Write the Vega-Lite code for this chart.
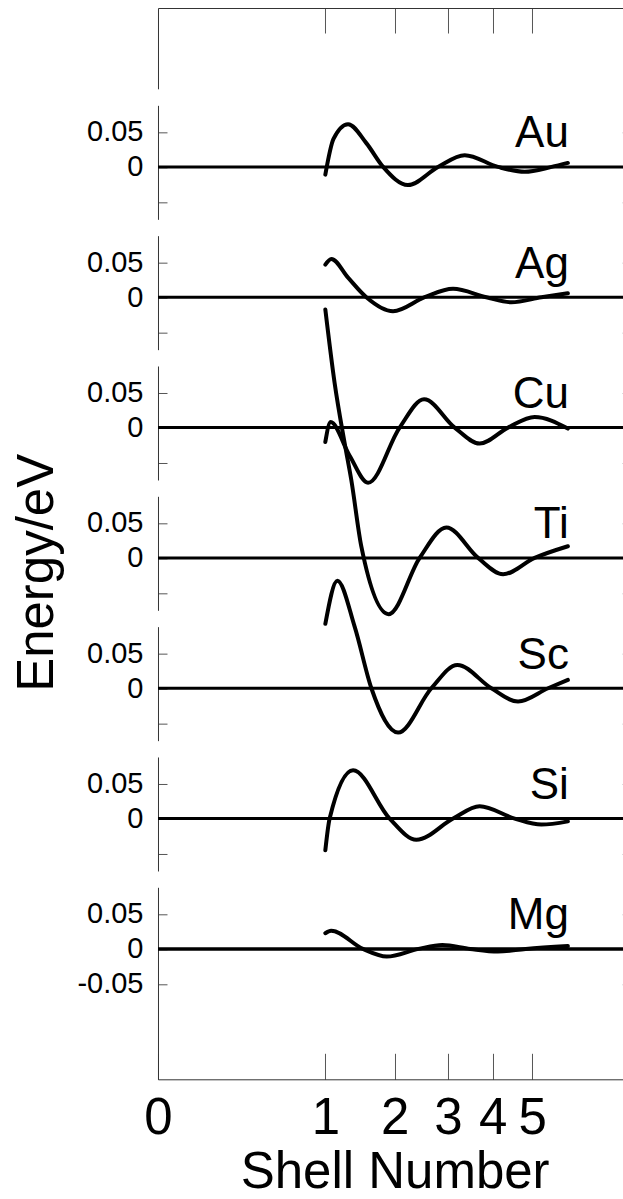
{
  "$schema": "https://vega.github.io/schema/vega-lite/v6.json",
  "padding": {"left": 12, "top": 7, "right": 0, "bottom": 0},
  "background": "white",
  "spacing": 16.33,
  "bounds": "flush",
  "config": {
    "view": {"stroke": null},
    "axis": {"grid": false, "domainColor": "#333", "domainWidth": 1, "tickColor": "#555", "tickWidth": 1, "labelFont": "Liberation Sans", "titleFont": "Liberation Sans", "labelColor": "black", "titleColor": "black", "titleFontWeight": "normal", "labelOverlap": false, "labelFlush": false, "labelBound": false},
    "text": {"font": "Liberation Sans", "color": "black"},
    "line": {"color": "black", "strokeWidth": 4, "strokeCap": "round", "interpolate": "monotone"}
  },
  "data": {"values": [
    {"el": "Au", "shell": 1.0, "E": -0.011}, {"el": "Au", "shell": 1.1, "E": 0.04}, {"el": "Au", "shell": 1.29, "E": 0.061}, {"el": "Au", "shell": 1.55, "E": 0.034}, {"el": "Au", "shell": 1.81, "E": 0}, {"el": "Au", "shell": 2.23, "E": -0.026}, {"el": "Au", "shell": 2.8, "E": 0}, {"el": "Au", "shell": 3.36, "E": 0.0167}, {"el": "Au", "shell": 4.13, "E": 0}, {"el": "Au", "shell": 4.8, "E": -0.007}, {"el": "Au", "shell": 5.53, "E": 0}, {"el": "Au", "shell": 6.0, "E": 0.0057},
    {"el": "Ag", "shell": 1.0, "E": 0.0467}, {"el": "Ag", "shell": 1.073, "E": 0.0548}, {"el": "Ag", "shell": 1.29, "E": 0.028}, {"el": "Ag", "shell": 1.55, "E": 0}, {"el": "Ag", "shell": 1.973, "E": -0.02}, {"el": "Ag", "shell": 2.54, "E": 0}, {"el": "Ag", "shell": 3.109, "E": 0.012}, {"el": "Ag", "shell": 3.851, "E": 0}, {"el": "Ag", "shell": 4.46, "E": -0.0071}, {"el": "Ag", "shell": 5.25, "E": 0}, {"el": "Ag", "shell": 6.0, "E": 0.0057},
    {"el": "Cu", "shell": 1.0, "E": -0.0205}, {"el": "Cu", "shell": 1.064, "E": 0.008}, {"el": "Cu", "shell": 1.31, "E": -0.04}, {"el": "Cu", "shell": 1.576, "E": -0.079}, {"el": "Cu", "shell": 2.085, "E": 0}, {"el": "Cu", "shell": 2.528, "E": 0.0404}, {"el": "Cu", "shell": 3.143, "E": 0}, {"el": "Cu", "shell": 3.695, "E": -0.0229}, {"el": "Cu", "shell": 4.377, "E": 0}, {"el": "Cu", "shell": 5.067, "E": 0.0152}, {"el": "Cu", "shell": 6.0, "E": -0.0014},
    {"el": "Ti", "shell": 1.0, "E": 0.355}, {"el": "Ti", "shell": 1.114, "E": 0.25}, {"el": "Ti", "shell": 1.244, "E": 0.164}, {"el": "Ti", "shell": 1.335, "E": 0.111}, {"el": "Ti", "shell": 1.477, "E": 0.016}, {"el": "Ti", "shell": 1.9, "E": -0.0804}, {"el": "Ti", "shell": 2.445, "E": 0}, {"el": "Ti", "shell": 2.97, "E": 0.0434}, {"el": "Ti", "shell": 3.659, "E": 0}, {"el": "Ti", "shell": 4.253, "E": -0.0233}, {"el": "Ti", "shell": 5.067, "E": 0}, {"el": "Ti", "shell": 6.0, "E": 0.0167},
    {"el": "Sc", "shell": 1.0, "E": 0.092}, {"el": "Sc", "shell": 1.149, "E": 0.1537}, {"el": "Sc", "shell": 1.381, "E": 0.088}, {"el": "Sc", "shell": 1.626, "E": 0}, {"el": "Sc", "shell": 2.058, "E": -0.0634}, {"el": "Sc", "shell": 2.669, "E": 0}, {"el": "Sc", "shell": 3.2, "E": 0.0333}, {"el": "Sc", "shell": 3.969, "E": 0}, {"el": "Sc", "shell": 4.63, "E": -0.019}, {"el": "Sc", "shell": 5.434, "E": 0}, {"el": "Sc", "shell": 6.0, "E": 0.0119},
    {"el": "Si", "shell": 1.0, "E": -0.0453}, {"el": "Si", "shell": 1.052, "E": 0}, {"el": "Si", "shell": 1.359, "E": 0.069}, {"el": "Si", "shell": 1.916, "E": 0}, {"el": "Si", "shell": 2.384, "E": -0.0304}, {"el": "Si", "shell": 3.109, "E": 0}, {"el": "Si", "shell": 3.695, "E": 0.0176}, {"el": "Si", "shell": 4.543, "E": 0}, {"el": "Si", "shell": 5.249, "E": -0.0086}, {"el": "Si", "shell": 6.0, "E": -0.004},
    {"el": "Mg", "shell": 1.0, "E": 0.0224}, {"el": "Mg", "shell": 1.07, "E": 0.026}, {"el": "Mg", "shell": 1.499, "E": 0}, {"el": "Mg", "shell": 1.869, "E": -0.011}, {"el": "Mg", "shell": 2.424, "E": 0}, {"el": "Mg", "shell": 2.888, "E": 0.0057}, {"el": "Mg", "shell": 3.48, "E": 0}, {"el": "Mg", "shell": 4.128, "E": -0.0038}, {"el": "Mg", "shell": 4.83, "E": 0}, {"el": "Mg", "shell": 6.0, "E": 0.004}
  ]},
  "vconcat": [
    {
      "width": 473.3, "height": 80.8,
      "data": {"values": [{}]},
      "mark": {"type": "point", "opacity": 0},
      "encoding": {
        "x": {"datum": 1, "type": "quantitative", "scale": {"type": "sqrt", "domain": [0, 8], "nice": false}, "axis": {"orient": "top", "values": [1, 2, 3, 4, 5], "tickSize": -25, "labels": false, "title": null}},
        "y": {"datum": 0.5, "type": "quantitative", "scale": {"domain": [0, 1]}, "axis": {"ticks": false, "labels": false, "title": null}}
      }
    },
    {
      "width": 473.3, "height": 114,
      "layer": [
        {"transform": [{"filter": "datum.el == 'Au'"}], "mark": {"type": "line"},
         "encoding": {"x": {"field": "shell", "type": "quantitative", "scale": {"type": "sqrt", "domain": [0, 8], "nice": false}, "axis": null},
                      "y": {"field": "E", "type": "quantitative", "scale": {"domain": [-0.0749, 0.088], "nice": false, "zero": false}, "axis": {"orient": "left", "values": [-0.05, 0, 0.05], "tickSize": -9, "labelPadding": 24, "labelFontSize": 29, "labelExpr": "datum.value < -0.01 ? '' : (datum.value > 0.01 ? '0.05' : '0')", "title": null}}}},
        {"data": {"values": [{}]}, "mark": {"type": "rule", "color": "black", "strokeWidth": 3},
         "encoding": {"y": {"datum": 0, "type": "quantitative", "axis": {"orient": "right", "values": [-0.05, 0, 0.05], "tickSize": -9, "labels": false, "title": null}}}},
        {"data": {"values": [{}]}, "mark": {"type": "text", "align": "right", "baseline": "alphabetic", "fontSize": 44, "dx": 1},
         "encoding": {"x": {"datum": 6, "type": "quantitative", "axis": null}, "y": {"datum": 0.028, "type": "quantitative", "axis": null}, "text": {"value": "Au"}}}
      ],
      "resolve": {"axis": {"x": "independent", "y": "independent"}}
    },
    {
      "width": 473.3, "height": 114,
      "layer": [
        {"transform": [{"filter": "datum.el == 'Ag'"}], "mark": {"type": "line"},
         "encoding": {"x": {"field": "shell", "type": "quantitative", "scale": {"type": "sqrt", "domain": [0, 8], "nice": false}, "axis": null},
                      "y": {"field": "E", "type": "quantitative", "scale": {"domain": [-0.0749, 0.088], "nice": false, "zero": false}, "axis": {"orient": "left", "values": [-0.05, 0, 0.05], "tickSize": -9, "labelPadding": 24, "labelFontSize": 29, "labelExpr": "datum.value < -0.01 ? '' : (datum.value > 0.01 ? '0.05' : '0')", "title": null}}}},
        {"data": {"values": [{}]}, "mark": {"type": "rule", "color": "black", "strokeWidth": 3},
         "encoding": {"y": {"datum": 0, "type": "quantitative", "axis": {"orient": "right", "values": [-0.05, 0, 0.05], "tickSize": -9, "labels": false, "title": null}}}},
        {"data": {"values": [{}]}, "mark": {"type": "text", "align": "right", "baseline": "alphabetic", "fontSize": 44, "dx": 1},
         "encoding": {"x": {"datum": 6, "type": "quantitative", "axis": null}, "y": {"datum": 0.028, "type": "quantitative", "axis": null}, "text": {"value": "Ag"}}}
      ],
      "resolve": {"axis": {"x": "independent", "y": "independent"}}
    },
    {
      "width": 473.3, "height": 114,
      "layer": [
        {"transform": [{"filter": "datum.el == 'Cu'"}], "mark": {"type": "line"},
         "encoding": {"x": {"field": "shell", "type": "quantitative", "scale": {"type": "sqrt", "domain": [0, 8], "nice": false}, "axis": null},
                      "y": {"field": "E", "type": "quantitative", "scale": {"domain": [-0.0749, 0.088], "nice": false, "zero": false}, "axis": {"orient": "left", "values": [-0.05, 0, 0.05], "tickSize": -9, "labelPadding": 24, "labelFontSize": 29, "labelExpr": "datum.value < -0.01 ? '' : (datum.value > 0.01 ? '0.05' : '0')", "title": null}}}},
        {"data": {"values": [{}]}, "mark": {"type": "rule", "color": "black", "strokeWidth": 3},
         "encoding": {"y": {"datum": 0, "type": "quantitative", "axis": {"orient": "right", "values": [-0.05, 0, 0.05], "tickSize": -9, "labels": false, "title": null}}}},
        {"data": {"values": [{}]}, "mark": {"type": "text", "align": "right", "baseline": "alphabetic", "fontSize": 44, "dx": 1},
         "encoding": {"x": {"datum": 6, "type": "quantitative", "axis": null}, "y": {"datum": 0.028, "type": "quantitative", "axis": null}, "text": {"value": "Cu"}}}
      ],
      "resolve": {"axis": {"x": "independent", "y": "independent"}}
    },
    {
      "width": 473.3, "height": 114,
      "layer": [
        {"transform": [{"filter": "datum.el == 'Ti'"}], "mark": {"type": "line"},
         "encoding": {"x": {"field": "shell", "type": "quantitative", "scale": {"type": "sqrt", "domain": [0, 8], "nice": false}, "axis": null},
                      "y": {"field": "E", "type": "quantitative", "scale": {"domain": [-0.0749, 0.088], "nice": false, "zero": false}, "axis": {"orient": "left", "values": [-0.05, 0, 0.05], "tickSize": -9, "labelPadding": 24, "labelFontSize": 29, "labelExpr": "datum.value < -0.01 ? '' : (datum.value > 0.01 ? '0.05' : '0')", "title": "Energy/eV", "titleFontSize": 51, "titleX": -94, "titleY": 76}}}},
        {"data": {"values": [{}]}, "mark": {"type": "rule", "color": "black", "strokeWidth": 3},
         "encoding": {"y": {"datum": 0, "type": "quantitative", "axis": {"orient": "right", "values": [-0.05, 0, 0.05], "tickSize": -9, "labels": false, "title": null}}}},
        {"data": {"values": [{}]}, "mark": {"type": "text", "align": "right", "baseline": "alphabetic", "fontSize": 44, "dx": 1},
         "encoding": {"x": {"datum": 6, "type": "quantitative", "axis": null}, "y": {"datum": 0.028, "type": "quantitative", "axis": null}, "text": {"value": "Ti"}}}
      ],
      "resolve": {"axis": {"x": "independent", "y": "independent"}}
    },
    {
      "width": 473.3, "height": 114,
      "layer": [
        {"transform": [{"filter": "datum.el == 'Sc'"}], "mark": {"type": "line"},
         "encoding": {"x": {"field": "shell", "type": "quantitative", "scale": {"type": "sqrt", "domain": [0, 8], "nice": false}, "axis": null},
                      "y": {"field": "E", "type": "quantitative", "scale": {"domain": [-0.0749, 0.088], "nice": false, "zero": false}, "axis": {"orient": "left", "values": [-0.05, 0, 0.05], "tickSize": -9, "labelPadding": 24, "labelFontSize": 29, "labelExpr": "datum.value < -0.01 ? '' : (datum.value > 0.01 ? '0.05' : '0')", "title": null}}}},
        {"data": {"values": [{}]}, "mark": {"type": "rule", "color": "black", "strokeWidth": 3},
         "encoding": {"y": {"datum": 0, "type": "quantitative", "axis": {"orient": "right", "values": [-0.05, 0, 0.05], "tickSize": -9, "labels": false, "title": null}}}},
        {"data": {"values": [{}]}, "mark": {"type": "text", "align": "right", "baseline": "alphabetic", "fontSize": 44, "dx": 1},
         "encoding": {"x": {"datum": 6, "type": "quantitative", "axis": null}, "y": {"datum": 0.028, "type": "quantitative", "axis": null}, "text": {"value": "Sc"}}}
      ],
      "resolve": {"axis": {"x": "independent", "y": "independent"}}
    },
    {
      "width": 473.3, "height": 114,
      "layer": [
        {"transform": [{"filter": "datum.el == 'Si'"}], "mark": {"type": "line"},
         "encoding": {"x": {"field": "shell", "type": "quantitative", "scale": {"type": "sqrt", "domain": [0, 8], "nice": false}, "axis": null},
                      "y": {"field": "E", "type": "quantitative", "scale": {"domain": [-0.0749, 0.088], "nice": false, "zero": false}, "axis": {"orient": "left", "values": [-0.05, 0, 0.05], "tickSize": -9, "labelPadding": 24, "labelFontSize": 29, "labelExpr": "datum.value < -0.01 ? '' : (datum.value > 0.01 ? '0.05' : '0')", "title": null}}}},
        {"data": {"values": [{}]}, "mark": {"type": "rule", "color": "black", "strokeWidth": 3},
         "encoding": {"y": {"datum": 0, "type": "quantitative", "axis": {"orient": "right", "values": [-0.05, 0, 0.05], "tickSize": -9, "labels": false, "title": null}}}},
        {"data": {"values": [{}]}, "mark": {"type": "text", "align": "right", "baseline": "alphabetic", "fontSize": 44, "dx": 1},
         "encoding": {"x": {"datum": 6, "type": "quantitative", "axis": null}, "y": {"datum": 0.028, "type": "quantitative", "axis": null}, "text": {"value": "Si"}}}
      ],
      "resolve": {"axis": {"x": "independent", "y": "independent"}}
    },
    {
      "width": 473.3, "height": 192,
      "layer": [
        {"transform": [{"filter": "datum.el == 'Mg'"}], "mark": {"type": "line"},
         "encoding": {"x": {"field": "shell", "type": "quantitative", "scale": {"type": "sqrt", "domain": [0, 8], "nice": false}, "axis": {"orient": "bottom", "values": [0, 1, 2, 3, 4, 5], "format": "d", "tickSize": -26, "labelPadding": 40, "labelFontSize": 51, "labelFlush": false, "title": "Shell Number", "titleFontSize": 51, "titleY": 68}},
                      "y": {"field": "E", "type": "quantitative", "scale": {"domain": [-0.1863, 0.088], "nice": false, "zero": false}, "axis": {"orient": "left", "values": [-0.05, 0, 0.05], "tickSize": -9, "labelPadding": 24, "labelFontSize": 29, "labelExpr": "datum.value < -0.01 ? '-0.05' : (datum.value > 0.01 ? '0.05' : '0')", "title": null}}}},
        {"data": {"values": [{}]}, "mark": {"type": "rule", "color": "black", "strokeWidth": 3.5},
         "encoding": {"y": {"datum": 0, "type": "quantitative", "axis": {"orient": "right", "values": [-0.05, 0, 0.05], "tickSize": -9, "labels": false, "title": null}}}},
        {"data": {"values": [{}]}, "mark": {"type": "text", "align": "right", "baseline": "alphabetic", "fontSize": 44, "dx": 1},
         "encoding": {"x": {"datum": 6, "type": "quantitative", "axis": null}, "y": {"datum": 0.028, "type": "quantitative", "axis": null}, "text": {"value": "Mg"}}}
      ],
      "resolve": {"axis": {"x": "independent", "y": "independent"}}
    }
  ]
}
